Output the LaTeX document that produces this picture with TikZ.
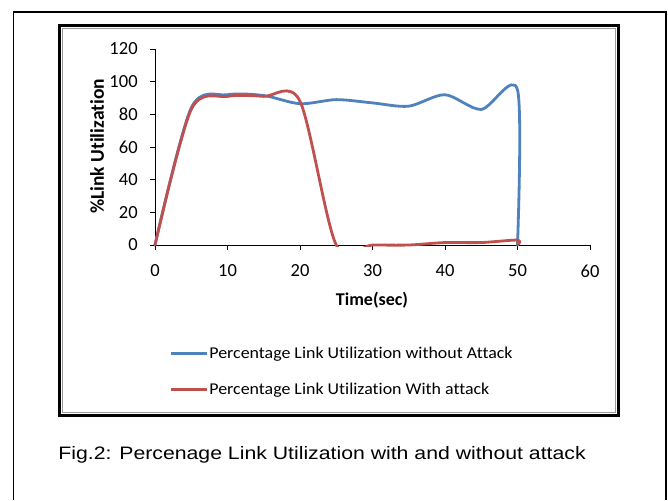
\documentclass[tikz,border=0pt]{standalone}
\usepackage{fontspec}
\setmainfont{Carlito}[Ligatures=NoCommon]
\newfontfamily\figcapfont{Liberation Sans}
\definecolor{withoutblue}{RGB}{79,129,189}
\definecolor{withred}{RGB}{192,80,77}

\tikzset{every picture/.style={line width=0.75pt}}

\begin{document}
\begin{tikzpicture}[x=1pt,y=1pt,yscale=-1,xscale=1,
  ticklbl/.style={inner sep=0pt,font=\fontsize{18.5}{20}\selectfont},
  axtitle/.style={inner sep=0pt,font=\fontsize{18}{20}\selectfont\bfseries},
  legtxt/.style={anchor=base west,inner sep=0pt,font=\fontsize{16.5}{18}\selectfont},
  series/.style={line width=2.8pt,line cap=round,line join=round}]
\useasboundingbox (0,0) rectangle (668,500);

%Shape: Open frame
\draw [line width=1.5pt] (13.5,500) -- (13.5,12) -- (666,12) -- (666,500) ;
%Shape: Rectangle (chart border)
\draw [line width=3.2pt] (59.5,25.5) rectangle (618.5,415.5) ;
\draw [color=black!40, line width=1.2pt] (62.3,28.3) rectangle (615.7,412.7) ;

%Straight Lines (axes)
\draw [line width=0.8pt] (155,49) -- (155,245) -- (590,245) ;
\foreach \v/\t in {0/0,1/20,2/40,3/60,4/80,5/100,6/120} {
  \draw [line width=0.8pt] (150,245-\v*32.667) -- (155,245-\v*32.667) ;
  \node (ylbl\v) [ticklbl,anchor=east] at (138,245-\v*32.667) {\t};
}
\foreach \u/\t in {0/0,1/10,2/20,3/30,4/40,5/50,6/60} {
  \draw [line width=0.8pt] (155+\u*72.5,245) -- (155+\u*72.5,250) ;
  \node (xlbl\u) [ticklbl] at (155+\u*72.5,271) {\t};
}

% Text Node
\node (ytitle) [axtitle,font=\fontsize{19.5}{20}\selectfont\bfseries,rotate=90] at (97,146.5) {\%Link Utilization};
% Text Node
\node (xtitle) [axtitle] at (372,300) {Time(sec)};

%Curve Lines (data)
\begin{scope}[shift={(155,245)},xscale=7.25,yscale=-1.6333]
\clip (-3,-0.9) rectangle (63,125);
\draw [series,withoutblue] plot [smooth,tension=0.5] coordinates {(0,0) (5,84) (10,92) (15,91.5) (20,86.5) (25,89) (30,87) (35,85) (40,92) (45,83) (50,95) (50,0)};
\draw [series,withred] plot [smooth,tension=0.5] coordinates {(0,0) (5,83) (10,91) (15,91) (20,88) (25,0) (30,0) (35,0) (40,1.5) (45,1.5) (50,3) (50,0)};
\end{scope}

%Legend
\draw [line width=2.8pt,withoutblue] (171,353.3) -- (207,353.3) ;
\node (legblue) [legtxt] at (209,358.5) {\scalebox{1.085}[1]{Percentage Link Utilization without Attack}};
\draw [line width=2.8pt,withred] (171,389.3) -- (207,389.3) ;
\node (legred) [legtxt] at (209,394.5) {\scalebox{1.085}[1]{Percentage Link Utilization With attack}};

% Text Node
\node (figcap) [anchor=base west,inner sep=0pt,font=\figcapfont\fontsize{18}{20}\selectfont] at (58,459.3) {\scalebox{1.18}[1]{Fig.2: Percenage Link Utilization with and without attack}};

\end{tikzpicture}
\end{document}
